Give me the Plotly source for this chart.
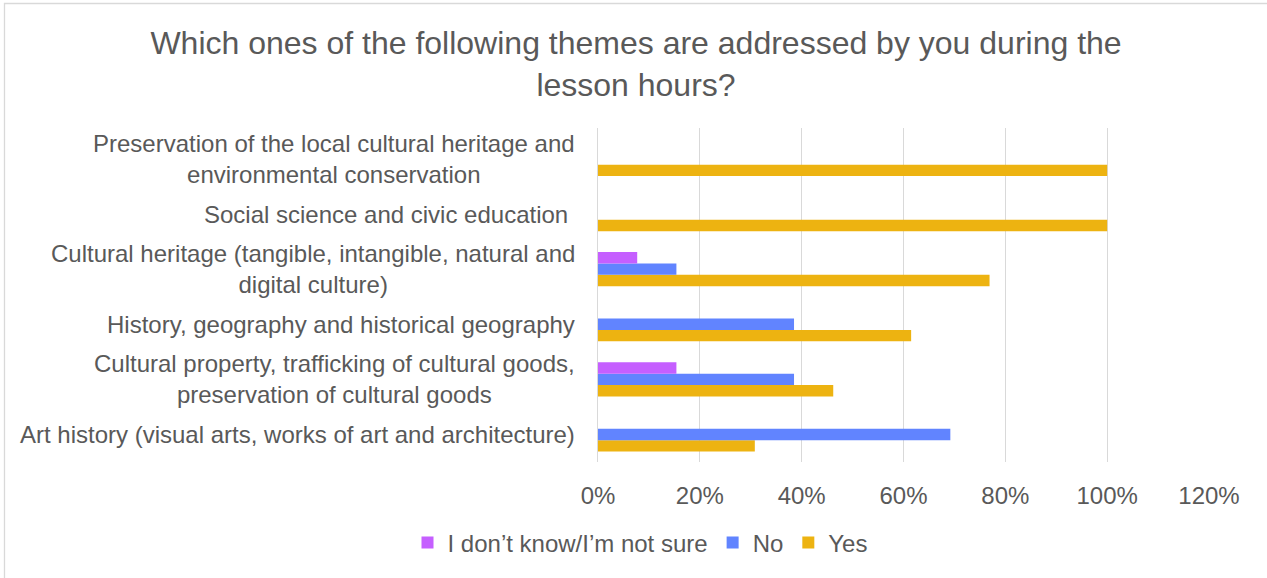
import plotly.graph_objects as go

# Themes, bottom to top as drawn on the category axis
themes = [
    "Art history (visual arts, works of art and architecture)",
    "Cultural property, trafficking of cultural goods,<br>preservation of cultural goods",
    "History, geography and historical geography",
    "Cultural heritage (tangible, intangible, natural and<br>digital culture)",
    "Social science and civic education\u00a0",
    "Preservation of the local cultural heritage and<br>environmental conservation",
]

# Share of respondents per answer
yes_share = [0.308, 0.462, 0.615, 0.769, 1.0, 1.0]
no_share = [0.692, 0.385, 0.385, 0.154, 0.0, 0.0]
unsure_share = [0.0, 0.154, 0.0, 0.077, 0.0, 0.0]

x_ticks = [0, 0.2, 0.4, 0.6, 0.8, 1.0, 1.2]
x_tick_labels = ["0%", "20%", "40%", "60%", "80%", "100%", "120%"]

TEXT = "#595959"
FONT = "Liberation Sans, Arial, sans-serif"

W, H = 1267, 578
ML, MR, MT, MB = 598, 58, 128, 116

fig = go.Figure()
series = [
    ("Yes", yes_share, "#EDB311"),
    ("No", no_share, "#6184FF"),
    ("I don\u2019t know/I\u2019m not sure", unsure_share, "#C55FFF"),
]
for name, vals, color in series:
    fig.add_trace(go.Bar(
        y=themes, x=vals, name=name, orientation="h",
        marker=dict(color=color, line=dict(width=0)),
        hoverinfo="x+name",
    ))

# Category labels: lines centred on each other, block right-aligned to the axis
for t in themes:
    fig.add_annotation(
        x=0, xref="paper", y=t, yref="y", text=t,
        xanchor="right", yanchor="middle", align="center",
        xshift=-21, showarrow=False,
        font=dict(family=FONT, size=24, color=TEXT),
    )

# Light frame around the chart area (left and top edges visible)
pw = W - ML - MR
ph = H - MT - MB
def px_x(p):
    return (p - ML) / pw
def px_y(p):
    return 1 - (p - MT) / ph
fig.add_shape(
    type="rect", xref="paper", yref="paper",
    x0=px_x(4.5), x1=px_x(1280), y0=px_y(3.5), y1=px_y(600),
    line=dict(color="#D9D9D9", width=1.3), fillcolor="rgba(0,0,0,0)",
    layer="below",
)

fig.update_layout(
    width=W, height=H,
    margin=dict(l=ML, r=MR, t=MT, b=MB, pad=0),
    paper_bgcolor="white", plot_bgcolor="white",
    barmode="group", bargap=0.38, bargroupgap=0,
    font=dict(family=FONT, color=TEXT, size=24),
    title=dict(
        text="Which ones of the following themes are addressed by you during the<br>lesson hours?",
        x=636 / W, xref="container", xanchor="center",
        y=1 - 54 / H, yref="container", yanchor="middle",
        font=dict(family=FONT, size=32, color=TEXT),
    ),
    xaxis=dict(
        range=[0, 1.2], tickvals=x_ticks, ticktext=x_tick_labels,
        showgrid=True, gridcolor="#D9D9D9", gridwidth=1.3,
        zeroline=False, showline=False,
        ticks="outside", ticklen=12, tickcolor="rgba(0,0,0,0)",
        tickfont=dict(family=FONT, size=24, color=TEXT),
        fixedrange=True,
    ),
    yaxis=dict(
        showticklabels=False, showgrid=False, zeroline=False,
        showline=True, linecolor="#D9D9D9", linewidth=1.3,
        fixedrange=True,
    ),
    legend=dict(
        orientation="h", traceorder="reversed",
        xref="container", yref="container",
        x=640 / W, xanchor="center", y=1 - 543 / H, yanchor="middle",
        font=dict(family=FONT, size=24, color=TEXT),
        itemwidth=30, itemsizing="constant",
    ),
    showlegend=True,
)

fig.write_html("out.html")
